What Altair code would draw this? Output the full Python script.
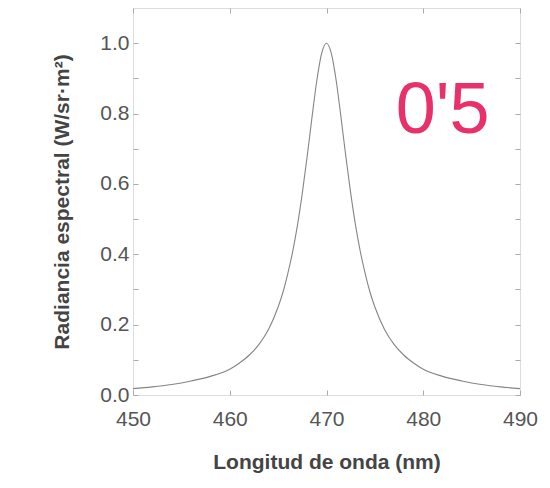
import altair as alt
import pandas as pd

# Wavelength (nm) and spectral radiance
wavelength = [450, 452, 454, 456, 458, 460, 461, 462, 463, 464, 465, 465.5, 466, 466.5,
              467, 467.5, 468, 468.5, 469, 469.5, 470, 470.5, 471, 471.5, 472, 472.5,
              473, 473.5, 474, 474.5, 475, 476, 477, 478, 479, 480, 482, 484, 486, 488, 490]
radiance = [0.018, 0.023, 0.030, 0.040, 0.053, 0.073, 0.091, 0.113, 0.143, 0.186, 0.250,
            0.292, 0.345, 0.407, 0.483, 0.574, 0.678, 0.789, 0.894, 0.971, 1.000, 0.971,
            0.894, 0.789, 0.678, 0.574, 0.483, 0.407, 0.345, 0.292, 0.250, 0.186, 0.143,
            0.113, 0.091, 0.073, 0.053, 0.040, 0.030, 0.023, 0.018]

x_ticks = [450, 460, 470, 480, 490]
y_ticks = [0.0, 0.1, 0.2, 0.3, 0.4, 0.5, 0.6, 0.7, 0.8, 0.9, 1.0]

note_text = ["0'5"]
note_x = [482.0]
note_y = [0.745]

df = pd.DataFrame({"wl": wavelength, "rad": radiance})
note = pd.DataFrame({"t": note_text, "x": note_x, "y": note_y})

FONT = "Liberation Sans"
xscale = alt.Scale(domain=[450, 490], nice=False, zero=False)
yscale = alt.Scale(domain=[0, 1.1], nice=False)

curve = alt.Chart(df).mark_line(color="#858585", strokeWidth=1.1, interpolate="monotone").encode(
    x=alt.X("wl:Q", scale=xscale,
            axis=alt.Axis(orient="bottom", values=x_ticks, format="d", offset=-5, tickSize=5,
                          tickColor="#aaaaaa", domain=False, grid=False, labelPadding=13,
                          labelFlush=False,
                          labelFont=FONT, labelFontSize=21, labelColor="#555555",
                          title="Longitud de onda (nm)", titleFont=FONT, titleFontSize=21,
                          titleFontWeight="bold", titleColor="#444444", titlePadding=22)),
    y=alt.Y("rad:Q", scale=yscale,
            axis=alt.Axis(orient="left", values=y_ticks, offset=-5, tickSize=5,
                          tickColor="#aaaaaa", domain=False, grid=False, labelPadding=4,
                          labelFlush=False,
                          labelExpr="round(datum.value*10) % 2 == 0 ? format(datum.value, '.1f') : ''",
                          labelFont=FONT, labelFontSize=21, labelColor="#555555",
                          title="Radiancia espectral (W/sr·m²)", titleFont=FONT, titleFontSize=21,
                          titleFontWeight="bold", titleColor="#444444", titlePadding=27)),
)

frame_ticks = alt.Chart(df).mark_line(opacity=0).encode(
    x=alt.X("wl:Q", scale=xscale,
            axis=alt.Axis(orient="top", values=x_ticks, offset=-5, tickSize=5, tickColor="#aaaaaa",
                          domain=False, grid=False, labels=False, title=None)),
    y=alt.Y("rad:Q", scale=yscale,
            axis=alt.Axis(orient="right", values=y_ticks, offset=-5, tickSize=5, tickColor="#aaaaaa",
                          domain=False, grid=False, labels=False, title=None)),
)

mark = alt.Chart(note).mark_text(font=FONT, fontSize=72, color="#e8306a", align="center",
                                 baseline="alphabetic").encode(
    x=alt.X("x:Q", scale=xscale, axis=None), y=alt.Y("y:Q", scale=yscale, axis=None), text="t:N")

chart = alt.layer(curve, frame_ticks, mark).resolve_axis(x="independent", y="independent").properties(
    width=387, height=387,
    autosize=alt.AutoSizeParams(type="none"),
    padding={"left": 125, "top": 0, "right": 20, "bottom": 80},
).configure_view(stroke="#999999", strokeWidth=1).configure(background="white")

chart.save("out.html", embed_options={"renderer": "svg", "actions": False})
